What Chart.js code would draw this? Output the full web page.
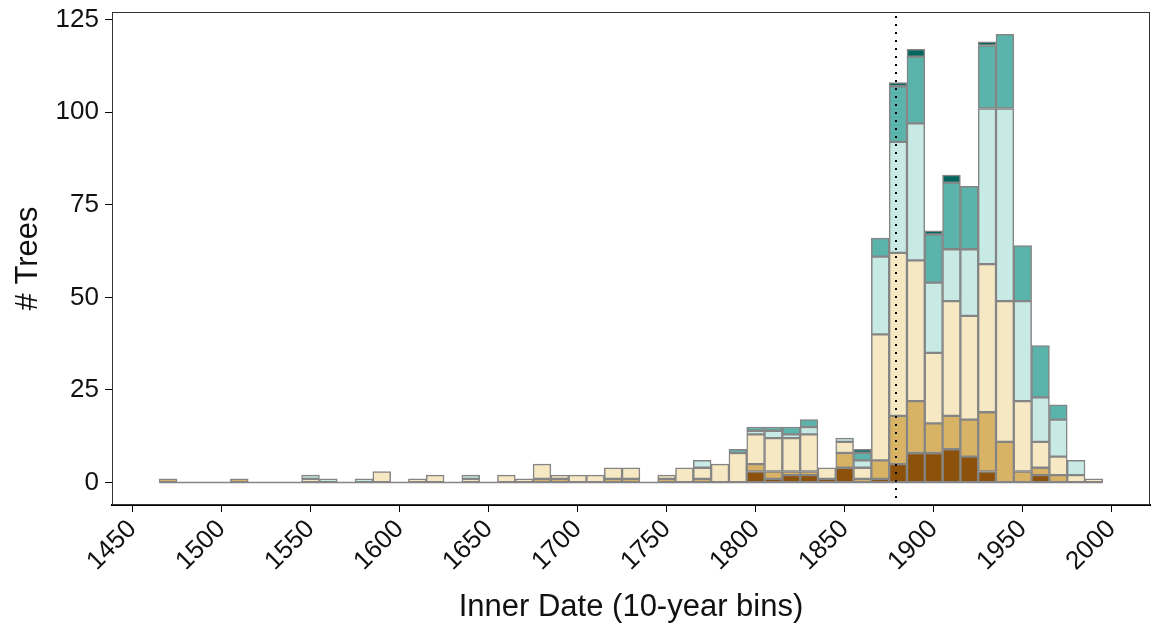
<!DOCTYPE html>
<html lang="en">
<head>
<meta charset="UTF-8" />
<title>Inner Date histogram</title>
<style>
  html, body { margin: 0; padding: 0; background: #fff; }
  #wrap { width: 1152px; height: 630px; }
</style>
</head>
<body>
<div id="wrap"><canvas id="chart" width="1152" height="630"></canvas></div>

<script src="https://cdn.jsdelivr.net/npm/chart.js"></script>
<script>
// bin centres (10-year bins, 1465-1995)
const bins = [1470, 1480, 1490, 1500, 1510, 1520, 1530, 1540, 1550, 1560,
              1570, 1580, 1590, 1600, 1610, 1620, 1630, 1640, 1650, 1660,
              1670, 1680, 1690, 1700, 1710, 1720, 1730, 1740, 1750, 1760,
              1770, 1780, 1790, 1800, 1810, 1820, 1830, 1840, 1850, 1860,
              1870, 1880, 1890, 1900, 1910, 1920, 1930, 1940, 1950, 1960,
              1970, 1980, 1990];
const binWidth = 10;

// counts per bin, stacked bottom to top
const darkBrown  = [0,0,0,0,0,0,0,0,0,0, 0,0,0,0,0,0,0,0,0,0, 0,0,0,0,0,0,0,0,0,0, 0,0,0,3,1,2,2,1,4,0, 1,5,8,8,9,7,3,0,0,2, 0,0,0];
const lightBrown = [1,0,0,0,1,0,0,0,0,0, 0,0,0,0,0,0,0,0,0,0, 0,1,1,0,0,1,1,0,1,0, 1,0,0,2,2,1,1,0,4,1, 5,13,14,8,9,10,16,11,3,2, 2,0,0];
const beige      = [0,0,0,0,0,0,0,0,1,0, 0,0,3,0,1,2,0,1,0,2, 1,4,1,2,2,3,3,0,1,4, 3,5,8,8,9,9,10,3,3,3, 34,44,38,19,31,28,40,38,19,7, 5,2,1];
const paleTeal   = [0,0,0,0,0,0,0,0,1,1, 0,1,0,0,0,0,0,1,0,0, 0,0,0,0,0,0,0,0,0,0, 2,0,0,1,2,1,2,0,1,2, 21,30,37,19,14,18,42,52,27,12, 10,4,0];
const teal       = [0,0,0,0,0,0,0,0,0,0, 0,0,0,0,0,0,0,0,0,0, 0,0,0,0,0,0,0,0,0,0, 0,0,1,1,1,2,2,0,0,2, 5,15,18,13,18,17,17,20,15,14, 4,0,0];
const darkTeal   = [0,0,0,0,0,0,0,0,0,0, 0,0,0,0,0,0,0,0,0,0, 0,0,0,0,0,0,0,0,0,0, 0,0,0,0,0,0,0,0,0,1, 0,1,2,1,2,0,1,0,0,0, 0,0,0];

const xTicks = [1450, 1500, 1550, 1600, 1650, 1700, 1750, 1800, 1850, 1900, 1950, 2000];
const yTicks = [0, 25, 50, 75, 100, 125];
const markerYear = 1879;

const barEdge = '#858585';
const series = [
  { name: 'dark brown',  values: darkBrown,  color: '#8C510A' },
  { name: 'light brown', values: lightBrown, color: '#D8B365' },
  { name: 'beige',       values: beige,      color: '#F6E8C3' },
  { name: 'pale teal',   values: paleTeal,   color: '#C7EAE5' },
  { name: 'teal',        values: teal,       color: '#5AB4AC' },
  { name: 'dark teal',   values: darkTeal,   color: '#01665E' }
];

// 5% padding either side of the binned range, like ggplot
const xLo = bins[0] - binWidth / 2, xHi = bins[bins.length - 1] + binWidth / 2;
const xPad = (xHi - xLo) * 0.05;
let yMax = 0;
bins.forEach((b, i) => {
  const tot = series.reduce((s, d) => s + d.values[i], 0);
  if (tot > yMax) yMax = tot;
});
const yPad = yMax * 0.05;

Chart.defaults.font.family = "'Liberation Sans', Arial, sans-serif";
Chart.defaults.color = '#111';

const extras = {
  id: 'extras',
  beforeDatasetsDraw(chart) {
    const { ctx, scales: { x, y } } = chart;
    // empty bins still leave an outline along zero
    const y0 = y.getPixelForValue(0);
    ctx.save();
    ctx.strokeStyle = barEdge;
    ctx.lineWidth = 1.5;
    ctx.beginPath();
    ctx.moveTo(x.getPixelForValue(xLo), y0);
    ctx.lineTo(x.getPixelForValue(xHi), y0);
    ctx.stroke();
    ctx.restore();
  },
  afterDatasetsDraw(chart) {
    const { ctx, chartArea: a, scales: { x } } = chart;
    ctx.save();
    const px = Math.round(x.getPixelForValue(markerYear));
    ctx.strokeStyle = '#000';
    ctx.lineWidth = 2;
    ctx.setLineDash([2, 6]);
    ctx.beginPath();
    ctx.moveTo(px, a.top + 4);
    ctx.lineTo(px, a.bottom);
    ctx.stroke();
    ctx.setLineDash([]);
    ctx.strokeStyle = '#333';
    ctx.lineWidth = 1;
    ctx.strokeRect(a.left + 0.5, a.top + 0.5, a.width - 1, a.height - 1);
    ctx.restore();
  }
};

new Chart(document.getElementById('chart'), {
  type: 'bar',
  data: {
    datasets: series.map(s => ({
      label: s.name,
      data: bins.map((b, i) => ({ x: b, y: s.values[i] })),
      backgroundColor: s.color,
      borderColor: barEdge,
      borderWidth: 1.5,
      borderSkipped: false,
      barPercentage: 1,
      categoryPercentage: 1
    }))
  },
  options: {
    responsive: false,
    animation: false,
    layout: { padding: { top: 12, right: 2, left: 0, bottom: 0 } },
    plugins: { legend: { display: false }, tooltip: { enabled: false } },
    scales: {
      x: {
        type: 'linear',
        offset: false,
        stacked: true,
        min: xLo - xPad,
        max: xHi + xPad,
        grid: { offset: false, drawOnChartArea: false, drawTicks: true, tickLength: 7, color: '#000', lineWidth: 1 },
        border: { display: true, color: '#000', width: 2 },
        ticks: {
          autoSkip: false, minRotation: 45, maxRotation: 45, padding: 2,
          font: { size: 26 }, color: '#111',
          callback: v => String(v)
        },
        title: {
          display: true, text: 'Inner Date (10-year bins)',
          font: { size: 31 }, color: '#111', padding: { top: 0, bottom: 4 }
        },
        afterBuildTicks: s => { s.ticks = xTicks.map(v => ({ value: v })); },
        afterFit: s => { s.height = 125; s.paddingLeft = 0; s.paddingRight = 0; }
      },
      y: {
        stacked: true,
        min: -yPad,
        max: yMax + yPad,
        grid: { drawOnChartArea: false, drawTicks: true, tickLength: 7, color: '#000', lineWidth: 1 },
        border: { display: true, color: '#000', width: 1 },
        ticks: { padding: 6, font: { size: 26 }, color: '#111', callback: v => String(v) },
        title: {
          display: true, text: '# Trees',
          font: { size: 31 }, color: '#111', padding: { top: 10, bottom: 0 }
        },
        afterBuildTicks: s => { s.ticks = yTicks.map(v => ({ value: v })); },
        afterFit: s => { s.width = 112; s.paddingTop = 0; s.paddingBottom = 0; }
      }
    }
  },
  plugins: [extras]
});
</script>
</body>
</html>
